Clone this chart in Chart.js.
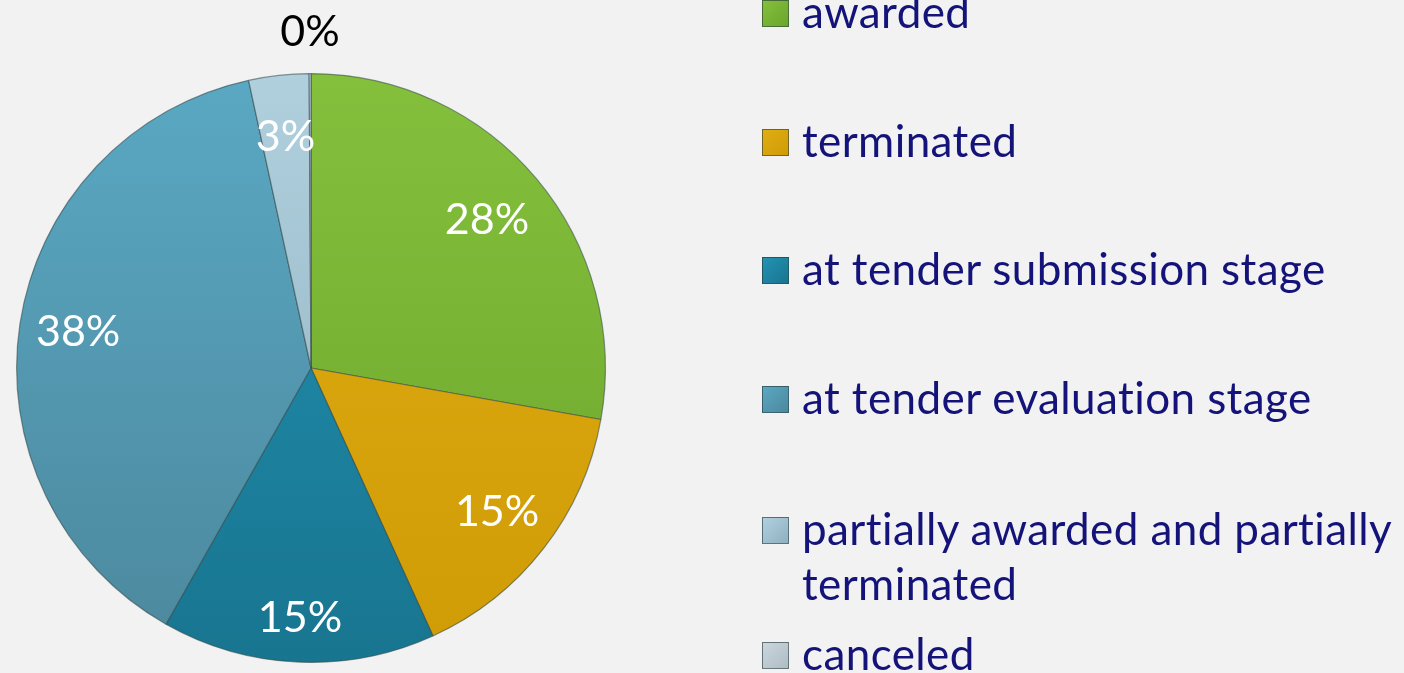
<!DOCTYPE html>
<html lang="en">
<head>
    <meta charset="UTF-8">
    <title>Tender status</title>
    <script src="https://cdn.jsdelivr.net/npm/chart.js"></script>
    <style>
        html, body {
            margin: 0;
            padding: 0;
            background: #f2f2f2;
            overflow: hidden;
        }
        #wrap {
            position: relative;
            width: 1404px;
            height: 673px;
        }
        #legend {
            position: absolute;
            left: 0;
            top: 0;
            font-family: Lato, "Open Sans", sans-serif;
            font-size: 44px;
            letter-spacing: 0.4px;
            font-variant-ligatures: none;
            line-height: 55px;
            color: #13137a;
        }
        .item {
            position: absolute;
            left: 802px;
            width: 600px;
            white-space: nowrap;
        }
        .box {
            position: absolute;
            left: -40px;
            top: 16px;
            width: 25px;
            height: 25px;
            border: 1px solid rgba(40, 60, 60, 0.6);
        }
    </style>
</head>
<body>
<div id="wrap">
    <canvas id="pie" width="1404" height="673"></canvas>
    <div id="legend"></div>
</div>

<script>
    // data (percent of tenders)
    const categories = ['awarded', 'terminated', 'at tender submission stage', 'at tender evaluation stage',
        'partially awarded and partially terminated', 'canceled'];
    const shares = [27.8, 15.4, 15.0, 38.4, 3.3, 0.1];

    const topColors = ['#84c03c', '#e0ad14', '#2393b3', '#5aa8c3', '#b0d0de', '#cbd6dd'];
    const baseColors = ['#6ca52c', '#cf9c06', '#187590', '#4c889d', '#8fb0bf', '#aebcc5'];

    // legend rows: first text line top (px) and wrapped lines
    const legendTops = [-16, 113, 241, 370, 501, 626];
    const legendLines = [['awarded'], ['terminated'], ['at tender submission stage'], ['at tender evaluation stage'],
        ['partially awarded and partially', 'terminated'], ['canceled']];
    const labelRadius = [0.78, 0.8, 0.85, 0.8, 0.79, 1.14];

    const legend = document.getElementById('legend');
    categories.forEach((c, i) => {
        const div = document.createElement('div');
        div.className = 'item';
        div.style.top = legendTops[i] + 'px';
        div.innerHTML = '<span class="box" style="background:linear-gradient(135deg,' + topColors[i] + ',' + baseColors[i] + ')"></span>'
            + legendLines[i].join('<br>');
        legend.appendChild(div);
    });

    // percent labels on the slices
    const pctLabels = {
        id: 'pctLabels',
        afterDatasetsDraw(chart) {
            const ctx = chart.ctx;
            const meta = chart.getDatasetMeta(0);
            ctx.save();
            ctx.font = '43px Lato, "Open Sans", sans-serif';
            ctx.textAlign = 'center';
            ctx.textBaseline = 'middle';
            meta.data.forEach((arc, i) => {
                const p = arc.getProps(['x', 'y', 'startAngle', 'endAngle', 'outerRadius'], true);
                const mid = (p.startAngle + p.endAngle) / 2;
                const r = p.outerRadius * labelRadius[i];
                ctx.fillStyle = labelRadius[i] > 1 ? '#000000' : '#ffffff';
                ctx.fillText(Math.round(shares[i]) + '%', p.x + Math.cos(mid) * r, p.y + Math.sin(mid) * r);
            });
            ctx.restore();
        }
    };

    const ctx = document.getElementById('pie').getContext('2d');
    new Chart(ctx, {
        type: 'pie',
        data: {
            labels: categories,
            datasets: [{
                data: shares,
                backgroundColor: (c) => {
                    const area = c.chart.chartArea;
                    if (!area) return baseColors[c.dataIndex];
                    const g = c.chart.ctx.createLinearGradient(0, area.top, 0, area.bottom);
                    g.addColorStop(0, topColors[c.dataIndex]);
                    g.addColorStop(1, baseColors[c.dataIndex]);
                    return g;
                },
                borderColor: 'rgba(50, 70, 70, 0.55)',
                borderWidth: 1.2
            }]
        },
        options: {
            responsive: false,
            animation: false,
            layout: {
                padding: { top: 73, bottom: 10, left: 16, right: 798 }
            },
            plugins: {
                legend: { display: false },
                tooltip: { enabled: false }
            }
        },
        plugins: [pctLabels]
    });
</script>
</body>
</html>
